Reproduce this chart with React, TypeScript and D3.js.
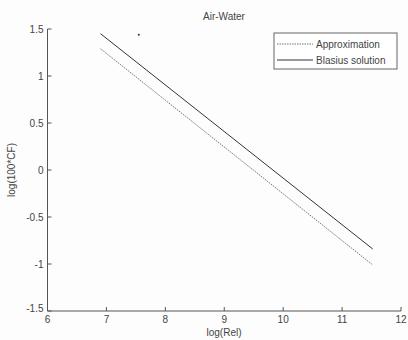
import * as d3 from "d3"

// values
const reLog = [6.9, 11.52]
const blasius = [1.45, -0.84]
const approximation = [1.29, -1.01]
const speck = [7.55, 1.44]
const xTicks = [6, 7, 8, 9, 10, 11, 12]
const yTicks = [-1.5, -1, -0.5, 0, 0.5, 1, 1.5]

export default function App() {
    const width = 408
    const height = 340
    const margin = { top: 29, right: 7, bottom: 29, left: 47.5 }
    const innerW = width - margin.left - margin.right
    const innerH = height - margin.top - margin.bottom

    const x = d3.scaleLinear().domain([6, 12]).range([0, innerW])
    const y = d3.scaleLinear().domain([-1.5, 1.5]).range([innerH, 0])

    const line = d3
        .line<number>()
        .x((_, i) => x(reLog[i]))
        .y((d) => y(d))

    const axisColor = "#555"
    const textColor = "#444"
    const font = "'Liberation Sans', Arial, sans-serif"

    return (
        <svg
            width={width}
            height={height}
            style={{ position: "absolute", left: 0, top: 0, background: "#fdfdfd" }}
            fontFamily={font}
        >
            <text x={224} y={20} textAnchor="middle" fontSize="10" fill={textColor}>
                Air-Water
            </text>
            <g transform={`translate(${margin.left},${margin.top})`}>
                {/* Y axis */}
                <line x1={0} x2={0} y1={0} y2={innerH} stroke={axisColor} />
                {yTicks.map((t, i) => (
                    <g key={i} transform={`translate(0,${y(t)})`}>
                        <line x1={0} x2={4} stroke={axisColor} />
                        <text
                            x={-4}
                            dy={t === -1.5 ? "0.1em" : "0.35em"}
                            textAnchor="end"
                            fontSize="10"
                            fill={textColor}
                        >
                            {t}
                        </text>
                    </g>
                ))}

                {/* X axis */}
                <g transform={`translate(0,${innerH})`}>
                    <line x1={0} x2={innerW} stroke={axisColor} />
                    {xTicks.map((t, i) => (
                        <g key={i} transform={`translate(${x(t)},0)`}>
                            <line y2={-4} stroke={axisColor} />
                            <text y={12} textAnchor="middle" fontSize="10" fill={textColor}>
                                {t}
                            </text>
                        </g>
                    ))}
                </g>

                {/* Series */}
                <path
                    d={line(approximation) ?? ""}
                    fill="none"
                    stroke="#777"
                    strokeWidth={1}
                    strokeDasharray="1.5 1"
                />
                <path d={line(blasius) ?? ""} fill="none" stroke="#333" strokeWidth={1} />
                <circle cx={x(speck[0])} cy={y(speck[1])} r={1} fill="#333" />
            </g>

            <text x={224} y={336} textAnchor="middle" fontSize="10" fill={textColor}>
                log(Rel)
            </text>
            <text
                transform="translate(15,170) rotate(-90)"
                textAnchor="middle"
                fontSize="10"
                fill={textColor}
            >
                log(100*CF)
            </text>

            {/* Legend */}
            <g transform="translate(274,33)">
                <rect width={123} height={36} fill="#fff" stroke="#666" />
                <line x1={3} x2={39} y1={11} y2={11} stroke="#777" strokeDasharray="1.5 1" />
                <text x={42} y={14.5} fontSize="10" fill={textColor}>
                    Approximation
                </text>
                <line x1={3} x2={39} y1={27} y2={27} stroke="#333" />
                <text x={42} y={30.5} fontSize="10" fill={textColor}>
                    Blasius solution
                </text>
            </g>
        </svg>
    )
}
